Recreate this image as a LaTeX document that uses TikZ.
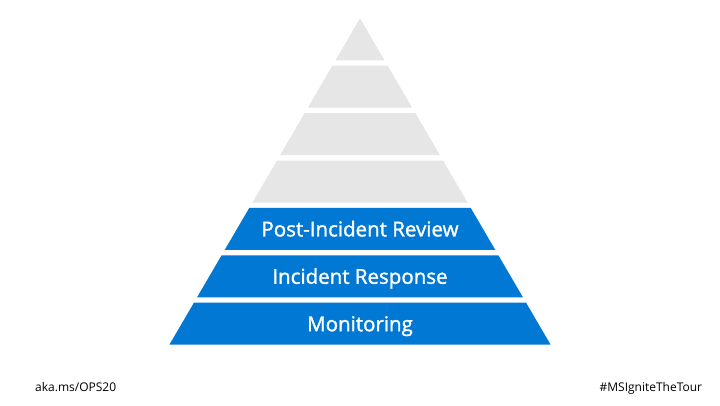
\documentclass[tikz,border=0pt]{standalone}
\usepackage{fontspec}
\setmainfont{Open Sans}
\newfontfamily\tierfont{Open Sans}[FakeBold=1.4]
\definecolor{tiergray}{HTML}{E7E6E6}
\definecolor{tierblue}{HTML}{0078D4}
\tikzset{
	tierlabel/.style={text=white, inner sep=0pt, anchor=base, font=\tierfont\fontsize{20.5}{24}\selectfont},
	footer/.style={text=black, inner sep=0pt, anchor=base, font=\fontsize{12}{14}\selectfont}
}

\begin{document}
\begin{tikzpicture}[x=1pt, y=-1pt]
	\useasboundingbox (0,0) rectangle (720,405);
	
	% --- Pyramid tiers (top four grey, bottom three blue) ---
	\foreach \i in {1,...,7}{
		\pgfmathsetmacro{\yt}{18.3+(\i-1)*47.4}
		\pgfmathsetmacro{\yb}{\yt+42}
		\pgfmathsetmacro{\wt}{0.584*(\yt-18.3)}
		\pgfmathsetmacro{\wb}{0.584*(\yb-18.3)}
		\ifnum\i<5 \def\tcol{tiergray}\else\def\tcol{tierblue}\fi
		\fill[\tcol] (360-\wt,\yt) -- (360+\wt,\yt) -- (360+\wb,\yb) -- (360-\wb,\yb) -- cycle;
		\coordinate (tier\i) at (360,\yt+28.5);
	}
	
	% --- Labels ---
	\node[tierlabel] (review) at (tier5) {Post-Incident Review};
	\node[tierlabel] (response) at (tier6) {Incident Response};
	\node[tierlabel] (monitoring) at (tier7) {Monitoring};
	
	% --- Footer ---
	\node[footer, anchor=base west] (link) at (35,391) {aka.ms/OPS20};
	\node[footer, anchor=base east] (tag) at (702.3,391) {\#MSIgniteTheTour};
	
\end{tikzpicture}
\end{document}
